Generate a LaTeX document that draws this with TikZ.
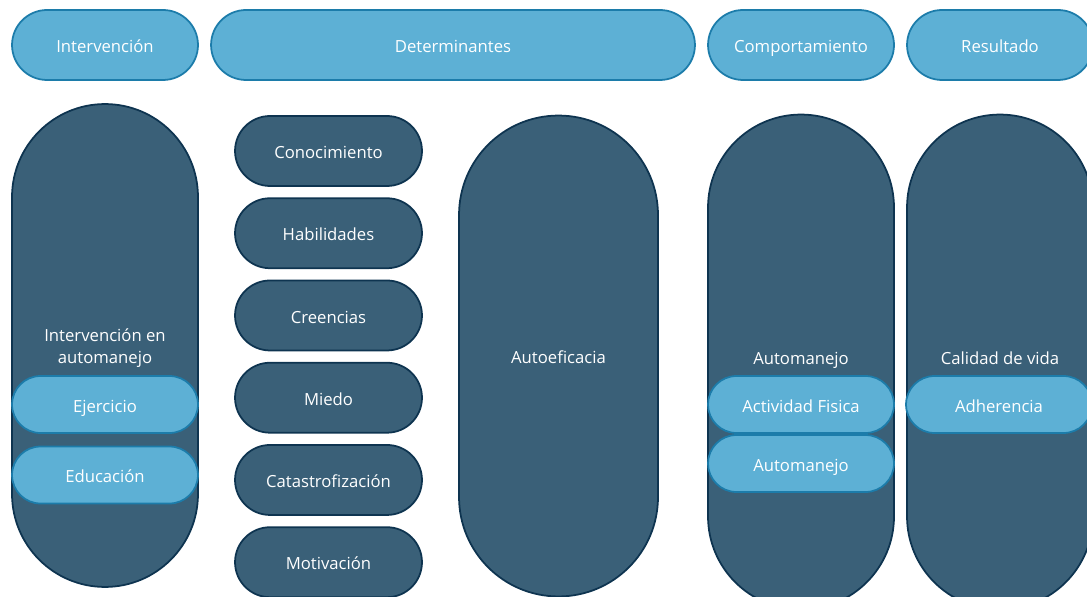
\documentclass[tikz,border=0pt]{standalone}
\usepackage{fontspec}
\setmainfont{Open Sans}
\usepackage{tikz}
\usetikzlibrary{positioning}

\definecolor{lightfill}{HTML}{5DB0D5}
\definecolor{lightline}{HTML}{1C7CAA}
\definecolor{darkfill}{HTML}{3A6078}
\definecolor{darkline}{HTML}{0E3450}

\begin{document}
\begin{tikzpicture}
  [
    x=0.02cm,
    y=-0.02cm,
    every node/.style={
      font=\fontsize{9.5}{12.5}\selectfont,
      text=white,
      text height=1.8ex,
      text depth=0.2ex
    },
    head/.style={
      draw=lightline,
      fill=lightfill,
      line width=1pt,
      minimum height=1.4cm,
      rounded corners=0.7cm
    },
    sub/.style={
      draw=lightline,
      fill=lightfill,
      line width=1pt,
      minimum width=3.72cm,
      minimum height=1.14cm,
      rounded corners=0.57cm
    },
    pill/.style={
      draw=darkline,
      fill=darkfill,
      line width=1pt,
      minimum width=3.74cm,
      minimum height=1.4cm,
      rounded corners=0.7cm
    },
    column/.style={
      draw=darkline,
      fill=darkfill,
      line width=1pt,
      minimum width=3.72cm,
      rounded corners=1.86cm
    }
  ]
  \useasboundingbox (0,0) rectangle (1087,597);
  \clip (0,0) rectangle (1087,597);
  % headers
  \node [head,minimum width=3.72cm] (hint) at (105,45) {Intervención};
  \node [head,minimum width=9.68cm] (hdet) at (453,45) {Determinantes};
  \node [head,minimum width=3.72cm] (hcom) at (801,45) {Comportamiento};
  \node [head,minimum width=3.72cm] (hres) at (1000,45) {Resultado};
  % tall columns
  \node [column,minimum height=9.66cm] (cint) at (105,345.5) {};
  \node [column,minimum width=3.98cm,minimum height=9.62cm,rounded corners=1.99cm] (cauto) at (558.5,356) {Autoeficacia};
  \node [column,minimum height=9.9cm] (ccom) at (801,362) {};
  \node [column,minimum height=9.9cm] (cres) at (1000,362) {};
  % column labels
  \node [align=center,text height=,text depth=] (lint) at (105,348.5) {Intervención en\\automanejo};
  \node (lcom) at (801,357) {Automanejo};
  \node (lres) at (1000,357) {Calidad de vida};
  % inner items
  \node [sub] (ejer) at (105,404.5) {Ejercicio};
  \node [sub] (educ) at (105,475) {Educación};
  \node [sub] (actf) at (801,404.5) {Actividad Fisica};
  \node [sub] (auto) at (801,463.5) {Automanejo};
  \node [sub] (adhe) at (999,404.5) {Adherencia};
  % determinants
  \node [pill] (cono) at (328.5,151) {Conocimiento};
  \node [pill,below=0.21cm of cono] (habi) {Habilidades};
  \node [pill,below=0.21cm of habi] (cree) {Creencias};
  \node [pill,below=0.21cm of cree] (mied) {Miedo};
  \node [pill,below=0.21cm of mied] (cata) {Catastrofización};
  \node [pill,below=0.21cm of cata] (moti) {Motivación};
\end{tikzpicture}
\end{document}
